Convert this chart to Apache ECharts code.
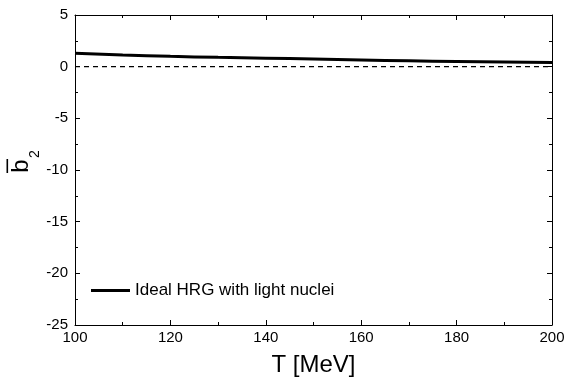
<!DOCTYPE html>
<html><head><meta charset="utf-8">
<script src="https://cdn.jsdelivr.net/npm/echarts@6/dist/echarts.min.js"></script>
<style>html,body{margin:0;padding:0;background:#fff}#c{width:566px;height:378px}</style>
</head><body><div id="c"></div>
<script>
const temps = [100, 110, 120, 130, 140, 150, 160, 170, 180, 190, 200];
const b2Ideal = [1.3, 1.13, 1.0, 0.9, 0.82, 0.74, 0.65, 0.57, 0.5, 0.45, 0.4];
const zeroLine = [[100, 0], [200, 0]];
const seriesName = 'Ideal HRG with light nuclei';

const F = 'Liberation Sans, Arial, sans-serif';
const axisCommon = {
  axisLine: {show: true, onZero: false, lineStyle: {color: '#000', width: 1}},
  axisTick: {show: true, inside: true, length: 5, lineStyle: {color: '#000'}},
  minorTick: {show: true, splitNumber: 2, length: 3, lineStyle: {color: '#000'}},
  splitLine: {show: false}
};
const chart = echarts.init(document.getElementById('c'));
chart.setOption({
  animation: false,
  grid: {left: 75, right: 14, top: 15, bottom: 53, outerBoundsMode: 'none', containLabel: false},
  legend: {
    left: 86, top: 277, data: [{name: seriesName, icon: 'rect'}],
    itemWidth: 39, itemHeight: 3, itemGap: 4,
    textStyle: {fontFamily: F, fontSize: 17, color: '#000'}
  },
  graphic: [
    {type: 'text', x: 21, y: 166, rotation: Math.PI / 2,
     style: {text: 'b', font: '24px Liberation Sans', fill: '#000', align: 'center', verticalAlign: 'middle'}},
    {type: 'text', x: 35, y: 154, rotation: Math.PI / 2,
     style: {text: '2', font: '14px Liberation Sans', fill: '#000', align: 'center', verticalAlign: 'middle'}},
    {type: 'rect', shape: {x: 6.5, y: 159, width: 1.6, height: 14}, style: {fill: '#000'}}
  ],
  xAxis: [
    Object.assign({}, axisCommon, {
      type: 'value', min: 100, max: 200, interval: 20,
      name: 'T [MeV]', nameLocation: 'middle', nameGap: 28,
      nameTextStyle: {fontFamily: F, fontSize: 24, color: '#000'},
      axisLabel: {fontFamily: F, fontSize: 15, color: '#000', margin: 5}
    }),
    Object.assign({}, axisCommon, {
      type: 'value', min: 100, max: 200, interval: 20, position: 'top',
      axisLabel: {show: false}
    })
  ],
  yAxis: [
    Object.assign({}, axisCommon, {
      type: 'value', min: -25, max: 5, interval: 5,
      axisLabel: {fontFamily: F, fontSize: 15, color: '#000', margin: 7}
    }),
    Object.assign({}, axisCommon, {
      type: 'value', min: -25, max: 5, interval: 5, position: 'right',
      axisLabel: {show: false}
    })
  ],
  series: [
    {
      name: seriesName, type: 'line', smooth: true, showSymbol: false,
      data: temps.map((t, i) => [t, b2Ideal[i]]),
      lineStyle: {color: '#000', width: 3}, itemStyle: {color: '#000'}
    },
    {
      name: 'zero', type: 'line', showSymbol: false, data: zeroLine,
      lineStyle: {color: '#000', width: 1.2, type: [5, 4]}
    }
  ]
});
</script></body></html>
